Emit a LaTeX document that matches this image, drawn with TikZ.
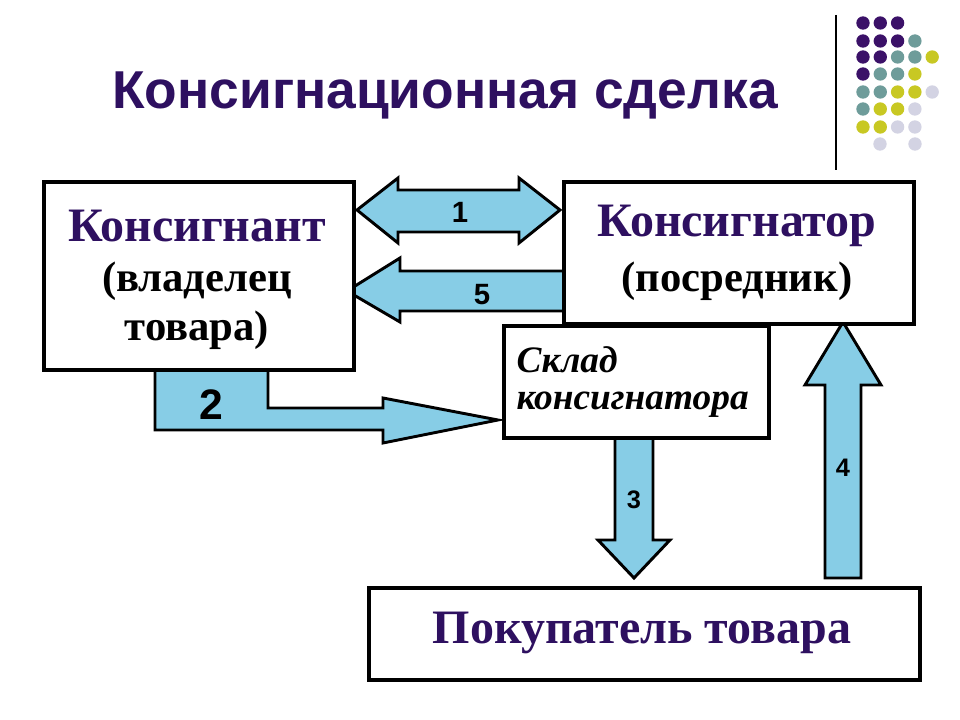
\documentclass[tikz,border=0pt]{standalone}
\usepackage{fontspec}
\setmainfont{Liberation Serif}
\newfontfamily\sans{Liberation Sans}
\begin{document}
\begin{tikzpicture}[x=0.75pt,y=-0.75pt,
  box/.style={draw=black,line width=3pt,fill=white},
  barrow/.style={draw=black,line width=2.2pt,fill=arrowblue,line join=miter},
  num/.style={font=\sans\bfseries\fontsize{22}{26}\selectfont},
  dot/.style={circle,inner sep=0pt,minimum size=10pt},
  pur/.style={text=titlepurple},
  big/.style={font=\bfseries\fontsize{36}{40}\selectfont},
  mid/.style={font=\bfseries\fontsize{32}{36}\selectfont},
  ital/.style={font=\bfseries\itshape\fontsize{28}{32}\selectfont,anchor=west}]
\definecolor{titlepurple}{HTML}{2E1060}
\definecolor{arrowblue}{HTML}{87CDE6}
\definecolor{dp}{HTML}{3B1168}
\definecolor{dt}{HTML}{6E9C9A}
\definecolor{dy}{HTML}{C8C823}
\definecolor{dl}{HTML}{D3D3E3}
\useasboundingbox (0,0) rectangle (960,720);
\fill[white] (0,0) rectangle (960,720);
% decoration
\draw[line width=0.8pt] (836,15) -- (836,170);
\foreach \r/\cols in {23/{dp,dp,dp},41/{dp,dp,dp,dt},57/{dp,dp,dt,dt,dy},74/{dp,dt,dt,dy},92/{dt,dt,dy,dy,dl},109/{dt,dy,dy,dl},127/{dy,dy,dl,dl}}{
  \foreach \c [count=\i] in \cols {\node[dot,fill=\c] at ({863+(\i-1)*17.3},\r) {};}}
\node[dot,fill=dl] at (880,144) {};
\node[dot,fill=dl] at (915,144) {};
% title
\node[pur,font=\sans\bfseries\fontsize{40}{46}\selectfont] (title) at (445,95) {Консигнационная сделка};
% arrows
\draw[barrow] (357,210) -- (398,178) -- (398,190) -- (519,190) -- (519,178) -- (560,210) -- (519,243) -- (519,232) -- (398,232) -- (398,243) -- cycle;
\draw[barrow] (562,271) -- (400,271) -- (400,258) -- (347,291) -- (400,322) -- (400,311) -- (562,311);
\draw[barrow] (155,368) -- (268,368) -- (268,408) -- (383,408) -- (383,398) -- (498,420) -- (383,443) -- (383,430) -- (155,430) -- cycle;
\draw[barrow] (615,436) -- (615,540) -- (598,540) -- (634,578) -- (670,540) -- (653,540) -- (653,436);
\draw[barrow] (825,578) -- (825,385) -- (805,385) -- (843,322) -- (881,385) -- (861,385) -- (861,578) -- cycle;
% boxes
\node[box,minimum width=310pt*0.75,minimum height=188pt*0.75,anchor=north west] (a) at (42,180) {};
\node[pur,big] (a1) at (197,226) {Консигнант};
\node[mid] (a2) at (197,281) {(владелец};
\node[mid] (a3) at (197,330) {товара)};
\node[box,minimum width=350pt*0.75,minimum height=142pt*0.75,anchor=north west] (b) at (562,180) {};
\node[pur,big] (b1) at (737,226) {Консигнатор};
\node[mid] (b2) at (737,281) {(посредник)};
\node[box,minimum width=265pt*0.75,minimum height=112pt*0.75,anchor=north west] (c) at (502,324) {};
\node[ital] (c1) at (512,360) {Склад};
\node[ital] (c2) at (512,405) {консигнатора};
\node[box,minimum width=551pt*0.75,minimum height=92pt*0.75,anchor=north west] (d) at (367,586) {};
\node[pur,big] (d1) at (642,633) {Покупатель товара};
% numbers
\node[num] (n1) at (460,212) {1};
\node[num] (n5) at (482,295) {5};
\node[num,font=\sans\bfseries\fontsize{32}{36}\selectfont] (n2) at (211,405) {2};
\node[num,font=\sans\bfseries\fontsize{19}{22}\selectfont] (n3) at (634,500) {3};
\node[num,font=\sans\bfseries\fontsize{19}{22}\selectfont] (n4) at (843,468) {4};
\end{tikzpicture}
\end{document}
